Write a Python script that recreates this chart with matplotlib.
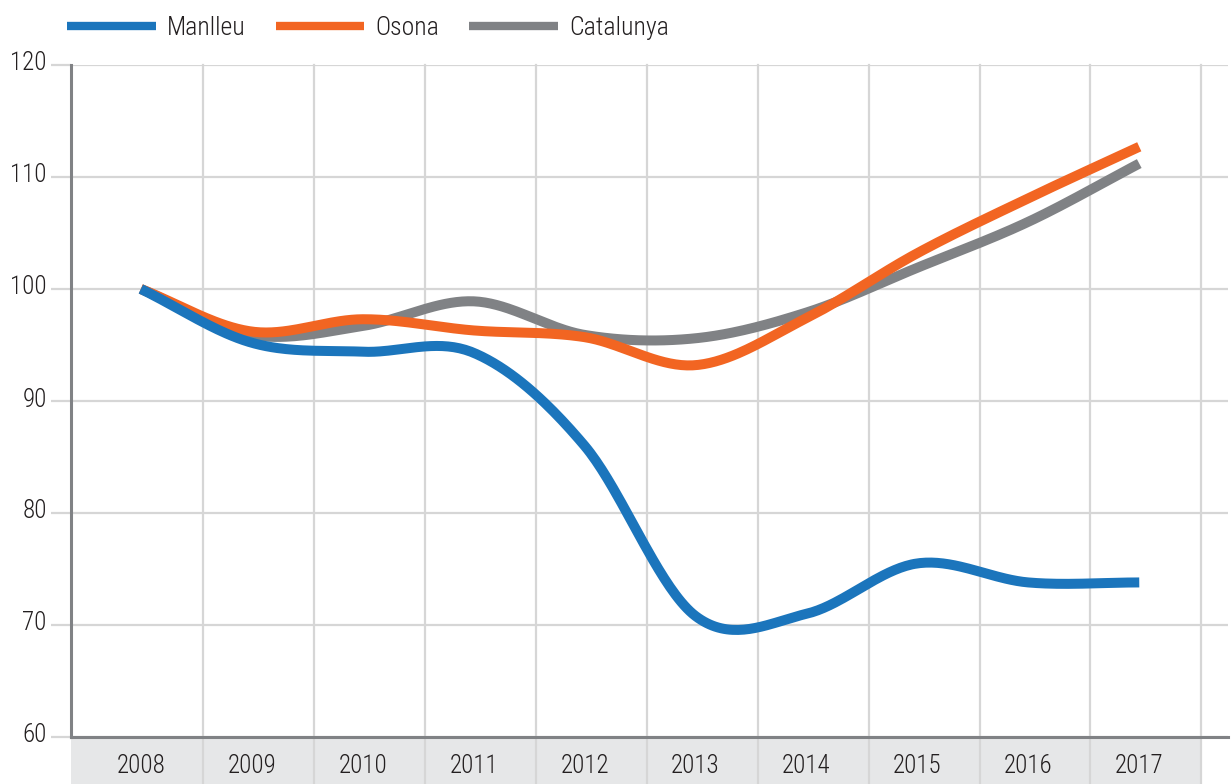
import numpy as np
import matplotlib.pyplot as plt
import matplotlib.transforms as mtransforms
from matplotlib.patches import Rectangle

years = ['2008', '2009', '2010', '2011', '2012', '2013', '2014', '2015', '2016', '2017']
manlleu = [100, 95.2, 94.4, 94.3, 86.0, 70.8, 71.0, 75.5, 73.8, 73.8]
osona = [100, 96.2, 97.3, 96.3, 95.7, 93.2, 97.4, 103.2, 108.1, 112.7]
catalunya = [100, 95.9, 96.7, 98.9, 95.9, 95.6, 97.9, 101.9, 106.0, 111.2]

plt.rcParams['font.family'] = ['Roboto Condensed', 'DejaVu Sans']
plt.rcParams['font.weight'] = 'light'
fs = 18
txt = '#231f20'
grid_c = '#d6d6d6'
axis_c = '#808285'

def smooth(vals, n=40):
    # catmull-rom through the points (like excel smoothed lines)
    p = np.asarray(vals, float)
    p = np.concatenate([[2 * p[0] - p[1]], p, [2 * p[-1] - p[-2]]])
    xs, ys = [], []
    t = np.linspace(0, 1, n)
    for i in range(1, len(p) - 2):
        m0 = (p[i + 1] - p[i - 1]) / 2
        m1 = (p[i + 2] - p[i]) / 2
        h00 = 2 * t**3 - 3 * t**2 + 1
        h10 = t**3 - 2 * t**2 + t
        h01 = -2 * t**3 + 3 * t**2
        h11 = t**3 - t**2
        ys.append(h00 * p[i] + h10 * m0 + h01 * p[i + 1] + h11 * m1)
        xs.append(i - 1 + t)
    return np.concatenate(xs), np.concatenate(ys)

fig = plt.figure(figsize=(12.32, 7.84), dpi=100)
ax = fig.add_axes([71/1232, 47/784, (1228-71)/1232, (737-65)/784])
ax.set_xlim(-0.63, 9.80)
ax.set_ylim(60, 120)

# band under the axis
ax.add_patch(Rectangle((-0.63, -0.075), 10.18, 0.075, transform=ax.get_xaxis_transform(),
                       facecolor='#e6e7e8', edgecolor='none', clip_on=False, zorder=0))
for k in range(10):
    ax.plot([k + 0.56, k + 0.56], [-0.075, 1], transform=ax.get_xaxis_transform(),
            color=grid_c, lw=1.6, clip_on=False, zorder=1)

ax.set_yticks([60, 70, 80, 90, 100, 110, 120])
ax.yaxis.grid(True, color=grid_c, lw=1.6)
ax.set_axisbelow(True)
ax.tick_params(axis='y', length=14.4, width=1.6, color=grid_c, pad=3, labelsize=fs, labelcolor=txt)
ax.set_xticks(range(10))
ax.set_xticklabels(years)
ax.tick_params(axis='x', length=0, pad=12, labelsize=fs, labelcolor=txt)

# y labels sit a little above their gridline
up = mtransforms.ScaledTranslation(0, 4/100, fig.dpi_scale_trans)
for lab in ax.get_yticklabels():
    lab.set_transform(lab.get_transform() + up)

for s in ['top', 'right']:
    ax.spines[s].set_visible(False)
for s in ['left', 'bottom']:
    ax.spines[s].set_color(axis_c)
    ax.spines[s].set_linewidth(2.2)
    ax.spines[s].set_zorder(3)

series = [('Catalunya', catalunya, '#808285'), ('Osona', osona, '#f26522'), ('Manlleu', manlleu, '#1b75bc')]
handles = {}
for name, vals, col in series:
    x, y = smooth(vals)
    handles[name], = ax.plot(x, y, color=col, lw=7.2, solid_capstyle='butt', label=name, zorder=4)

leg = fig.legend([handles['Manlleu'], handles['Osona'], handles['Catalunya']],
                 ['Manlleu', 'Osona', 'Catalunya'], loc='center left',
                 bbox_to_anchor=(44/1232, 1 - 28/784), ncol=3, frameon=False,
                 fontsize=18.5, handlelength=3.45, handletextpad=0.45, columnspacing=1.15,
                 labelcolor=txt)
for h in leg.legend_handles:
    h.set_linewidth(6)

fig.savefig('out.png', dpi=100)
